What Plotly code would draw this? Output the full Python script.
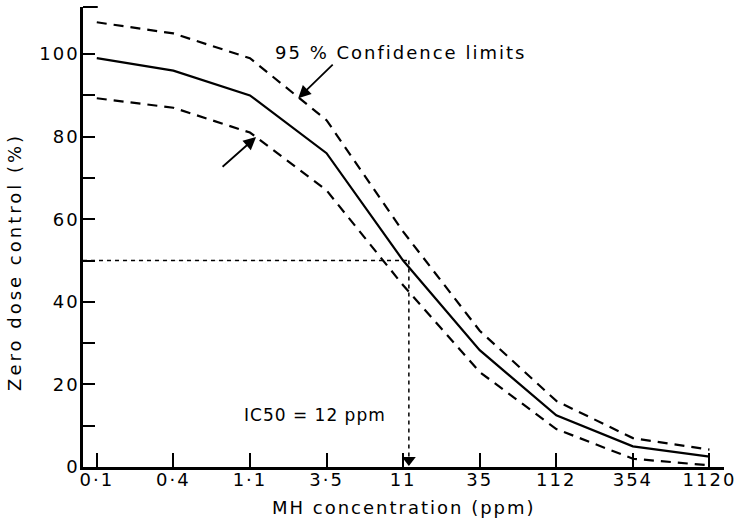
import math
import plotly.graph_objects as go

# ---- data ----
conc_labels = ["0·1", "0·4", "1·1", "3·5", "11", "35", "112", "354", "1120"]
mean_vals = [99, 96, 90, 76, 50, 28.3, 12.5, 5, 2.5]
upper_vals = [107.7, 105, 99, 84, 57, 33, 16, 7, 4.2]
lower_vals = [89.3, 87, 81, 67, 44, 23, 9.2, 2, 0.4]
y_tick_vals = [0, 20, 40, 60, 80, 100]
y_minor_vals = [10, 30, 50, 70, 90]
ic50_ppm = 12
ic50_level = 50

FONT = "DejaVu Sans"


def spaced(t, px=2):
    return f'<span style="letter-spacing:{px}px">{t}</span>'


xs = list(range(len(conc_labels)))
conc_num = [float(c.replace("·", ".")) for c in conc_labels]
# position of IC50 on the categorical (log-spaced) axis
i0 = max(i for i, c in enumerate(conc_num) if c <= ic50_ppm)
ic50_x = i0 + math.log10(ic50_ppm / conc_num[i0]) / math.log10(conc_num[i0 + 1] / conc_num[i0])

x_range = [-0.18, 8.19]
y_range = [0, 111.4]

fig = go.Figure()
dash_curve = "10px,7px"
fig.add_trace(go.Scatter(x=xs, y=upper_vals, mode="lines",
                         line=dict(color="black", width=2.2, dash=dash_curve), showlegend=False))
fig.add_trace(go.Scatter(x=xs, y=mean_vals, mode="lines",
                         line=dict(color="black", width=2.2), showlegend=False))
fig.add_trace(go.Scatter(x=xs, y=lower_vals, mode="lines",
                         line=dict(color="black", width=2.2, dash=dash_curve), showlegend=False))

# IC50 guide lines
fig.add_shape(type="line", xref="x", yref="y", x0=x_range[0], x1=ic50_x, y0=ic50_level, y1=ic50_level,
              line=dict(color="black", width=1.5, dash="4px,4px"))
fig.add_shape(type="line", xref="x", yref="y", x0=ic50_x, x1=ic50_x, y0=ic50_level, y1=0,
              line=dict(color="black", width=1.5, dash="4px,4px"))
fig.add_trace(go.Scatter(x=[ic50_x], y=[1.7], mode="markers",
                         marker=dict(symbol="triangle-down", size=12, color="black"),
                         cliponaxis=False, showlegend=False))

# top tick of y axis
fig.add_shape(type="line", xref="paper", yref="paper", x0=0, x1=0.023, y0=1, y1=1,
              line=dict(color="black", width=2))

fig.add_annotation(x=3.97, y=100.5, xref="x", yref="y", showarrow=False,
                   xanchor="center", yanchor="middle",
                   text=spaced("95 % Confidence limits"), font=dict(size=18))
fig.add_annotation(x=2.63, y=89.3, xref="x", yref="y", ax=36, ay=-35,
                   showarrow=True, arrowhead=2, arrowsize=1.4, arrowwidth=1.8, arrowcolor="black", text="")
fig.add_annotation(x=2.08, y=79.9, xref="x", yref="y", ax=-35, ay=31,
                   showarrow=True, arrowhead=2, arrowsize=1.4, arrowwidth=1.8, arrowcolor="black", text="")
fig.add_annotation(x=2.85, y=12.6, xref="x", yref="y", showarrow=False,
                   xanchor="center", yanchor="middle",
                   text=spaced("IC50 = 12 ppm", 1), font=dict(size=17))

# axis titles
fig.add_annotation(x=0.5, y=-0.089, xref="paper", yref="paper", showarrow=False,
                   xanchor="center", yanchor="middle",
                   text=spaced("MH concentration (ppm)"), font=dict(size=18))
fig.add_annotation(x=-0.106, y=0.446, xref="paper", yref="paper", showarrow=False, textangle=-90,
                   xanchor="center", yanchor="middle",
                   text=spaced("Zero dose control (%)", 3), font=dict(size=18))

fig.update_layout(
    width=743, height=524,
    margin=dict(l=83, r=16, t=7, b=57),
    paper_bgcolor="white", plot_bgcolor="white",
    font=dict(family=FONT, color="black", size=18),
    showlegend=False,
)
fig.update_xaxes(range=x_range, tickvals=xs, ticktext=[spaced(t) for t in conc_labels],
                 ticks="inside", ticklen=14, tickwidth=1.5, tickcolor="black",
                 ticklabelstandoff=-5,
                 showline=True, linewidth=2.5, linecolor="black",
                 showgrid=False, zeroline=False, tickfont=dict(size=18))
fig.update_yaxes(range=y_range, tickvals=y_tick_vals, ticktext=[spaced(str(v)) for v in y_tick_vals],
                 ticks="inside", ticklen=12, tickwidth=1.5, tickcolor="black",
                 ticklabelstandoff=-3,
                 minor=dict(tickvals=y_minor_vals, ticks="inside", ticklen=12, tickwidth=1.5,
                            tickcolor="black", showgrid=False),
                 showline=True, linewidth=2.5, linecolor="black",
                 showgrid=False, zeroline=False, tickfont=dict(size=18))

fig.write_html("out.html")
